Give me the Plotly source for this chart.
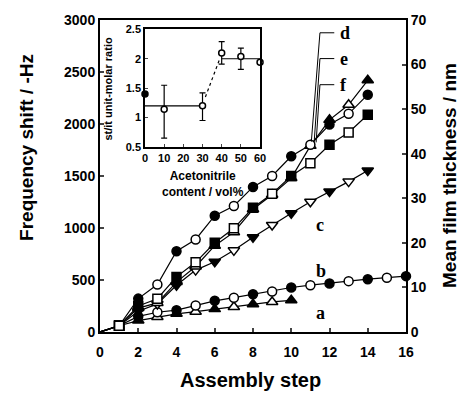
import plotly.graph_objects as go

# ---------------- data ----------------
steps = list(range(0, 17))

# frequency shift (-Hz) for each assembly step (step 0 .. n)
series_a = [0, 60, 110, 145, 175, 195, 220, 241, 267, 289, 305]
series_b = [0, 60, 150, 190, 210, 255, 300, 330, 363, 390, 428, 450, 466, 489, 508, 521, 537]
series_c = [0, 60, 200, 270, 450, 595, 675, 785, 910, 1029, 1141, 1253, 1350, 1446, 1552]
series_d = [0, 60, 230, 280, 480, 630, 830, 960, 1180, 1320, 1480, 1790, 2040, 2185, 2420]
series_e = [0, 60, 321, 456, 777, 890, 1118, 1212, 1395, 1500, 1690, 1800, 1995, 2098, 2282]
series_f = [0, 60, 250, 320, 530, 670, 858, 997, 1195, 1330, 1501, 1623, 1800, 1918, 2089]

series_labels = ["a", "b", "c", "d", "e", "f"]
series_symbols = ["triangle-up", "circle", "triangle-down", "triangle-up", "circle", "square"]

# inset data
inset_x = [0, 10, 30, 40, 50, 60]
inset_y = [1.40, 1.14, 1.20, 2.10, 2.04, 1.94]
inset_err_plus = [0, 0.41, 0.22, 0.19, 0.14, 0]
inset_err_minus = [0, 0.49, 0.25, 0.19, 0.22, 0]
inset_filled = [True, False, False, False, False, False]
avg_low_x = [0, 30]
avg_low_y = [1.2, 1.2]
avg_high_x = [40, 60]
avg_high_y = [2.0, 2.0]
dotted_x = [31.5, 39]
dotted_y = [1.35, 2.0]

x_ticks = [0, 2, 4, 6, 8, 10, 12, 14, 16]
y_ticks = [0, 500, 1000, 1500, 2000, 2500, 3000]
y2_ticks = [0, 10, 20, 30, 40, 50, 60, 70]

# ---------------- figure ----------------
fig = go.Figure()

all_series = [series_a, series_b, series_c, series_d, series_e, series_f]
sizes = {"circle": 9, "square": 9, "triangle-up": 10, "triangle-down": 10}

for vals, lab, sym in zip(all_series, series_labels, series_symbols):
    xs = steps[:len(vals)]
    symbols, colors, msz = [], [], []
    for s in xs:
        if s == 0:
            symbols.append(sym); colors.append("#000000"); msz.append(0)
        elif s == 1:
            symbols.append("square"); colors.append("#ffffff"); msz.append(9)
        else:
            symbols.append(sym)
            colors.append("#000000" if s % 2 == 0 else "#ffffff")
            msz.append(sizes[sym])
    fig.add_trace(go.Scatter(
        x=xs, y=vals, mode="lines+markers", name=lab,
        line=dict(color="black", width=1.2),
        marker=dict(symbol=symbols, color=colors, size=msz, opacity=1,
                    line=dict(color="#000000", width=1.5)),
        showlegend=False, xaxis="x", yaxis="y", cliponaxis=False))

# dummy trace for right axis
fig.add_trace(go.Scatter(x=[0], y=[0], mode="markers", marker=dict(size=0, opacity=0),
                         xaxis="x", yaxis="y2", showlegend=False, hoverinfo="skip"))

# inset traces
fig.add_trace(go.Scatter(x=avg_low_x, y=avg_low_y, mode="lines",
                         line=dict(color="black", width=1.2), xaxis="x3", yaxis="y3", showlegend=False))
fig.add_trace(go.Scatter(x=avg_high_x, y=avg_high_y, mode="lines",
                         line=dict(color="black", width=1.2), xaxis="x3", yaxis="y3", showlegend=False))
fig.add_trace(go.Scatter(x=dotted_x, y=dotted_y, mode="lines",
                         line=dict(color="black", width=1.2, dash="dot"), xaxis="x3", yaxis="y3", showlegend=False))
fig.add_trace(go.Scatter(
    x=inset_x, y=inset_y, mode="markers",
    marker=dict(symbol="circle", size=6, opacity=1,
                color=["#000000" if f else "#ffffff" for f in inset_filled],
                line=dict(color="black", width=1.5)),
    error_y=dict(type="data", symmetric=False, array=inset_err_plus, arrayminus=inset_err_minus,
                 color="black", thickness=1.2, width=3),
    xaxis="x3", yaxis="y3", showlegend=False, cliponaxis=False))

tickfont = dict(family="Liberation Sans, Arial", size=14, color="black", weight="bold")
insetfont = dict(family="Liberation Sans, Arial", size=11, color="black", weight="bold")

fig.update_layout(
    width=463, height=393,
    margin=dict(l=100, r=57, t=20, b=61),
    paper_bgcolor="white", plot_bgcolor="white",
    xaxis=dict(range=[0, 16], tickvals=x_ticks, ticks="inside", ticklen=4, tickwidth=1.5,
               showline=True, linecolor="black", linewidth=2, mirror=True,
               showgrid=False, zeroline=False, tickfont=tickfont, ticklabelstandoff=6,
               anchor="y"),
    yaxis=dict(range=[0, 3000], tickvals=y_ticks, ticks="inside", ticklen=4, tickwidth=1.5,
               showline=True, linecolor="black", linewidth=2,
               showgrid=False, zeroline=False, tickfont=tickfont, anchor="x"),
    yaxis2=dict(range=[0, 70], tickvals=y2_ticks, ticks="inside", ticklen=4, tickwidth=1.5,
                showline=True, linecolor="black", linewidth=2, overlaying="y", side="right",
                showgrid=False, zeroline=False, tickfont=tickfont, anchor="x"),
    xaxis3=dict(domain=[0.147, 0.523], range=[0, 60], tickvals=[0, 10, 20, 30, 40, 50, 60],
                ticks="inside", ticklen=3, showline=True, linecolor="black", linewidth=1.5,
                mirror=True, showgrid=False, zeroline=False, tickfont=insetfont, anchor="y3"),
    yaxis3=dict(domain=[0.593, 0.97], range=[0.5, 2.5], tickvals=[0.5, 1, 1.5, 2, 2.5],
                ticktext=["0.5", "1", "1.5", "2", "2.5"],
                ticks="inside", ticklen=3, showline=True, linecolor="black", linewidth=1.5,
                mirror=True, showgrid=False, zeroline=False, tickfont=insetfont, anchor="x3"),
)

annotations = []
titlefont = dict(family="Liberation Sans, Arial", size=19, color="black", weight="bold")
annotations.append(dict(text="Frequency shift / -Hz", xref="paper", yref="paper", x=0, y=0.59,
                        xanchor="center", yanchor="middle", xshift=-73, textangle=-90,
                        showarrow=False, font=titlefont))
annotations.append(dict(text="Mean film thickness / nm", xref="paper", yref="paper", x=1, y=0.5,
                        xanchor="center", yanchor="middle", xshift=43, textangle=-90,
                        showarrow=False, font=titlefont))
annotations.append(dict(text="Assembly step", xref="paper", yref="paper", x=0.493, y=0,
                        xanchor="center", yanchor="middle", yshift=-48,
                        showarrow=False, font=dict(family="Liberation Sans, Arial", size=20,
                                                   color="black", weight="bold")))
annotations.append(dict(text="st/it unit-molar ratio", xref="paper", yref="paper",
                        x=0.147, y=0.78, xanchor="center", yanchor="middle", xshift=-37,
                        textangle=-90, showarrow=False, font=insetfont))
annotations.append(dict(text="Acetonitrile<br>content / vol%", xref="paper", yref="paper",
                        x=0.335, y=0.593, xanchor="center", yanchor="top", yshift=-20,
                        showarrow=False, font=dict(family="Liberation Sans, Arial", size=12,
                                                   color="black", weight="bold")))

labfont = dict(family="Liberation Serif, Times New Roman", size=18, color="black", weight="bold")
label_pos = {"a": (11.2, 180), "b": (11.2, 588), "c": (11.2, 1029),
             "d": (12.45, 2877), "e": (12.45, 2629), "f": (12.45, 2378)}
for lab, (lx, ly) in label_pos.items():
    annotations.append(dict(text=lab, x=lx, y=ly, xref="x", yref="y", showarrow=False,
                            xanchor="left", yanchor="middle", font=labfont))
fig.update_layout(annotations=annotations)

# leader lines for d, e, f
leader = [("d", 11.05, series_d[11] + 40), ("e", 11.2, series_e[11] + 30), ("f", 11.3, series_f[11] + 200)]
shapes = []
for lab, ex, ey in leader:
    lx, ly = label_pos[lab]
    shapes.append(dict(type="line", xref="x", yref="y", x0=lx - 0.2, x1=lx - 0.95, y0=ly, y1=ly,
                       line=dict(color="black", width=1)))
    shapes.append(dict(type="line", xref="x", yref="y", x0=lx - 0.95, x1=ex, y0=ly, y1=ey,
                       line=dict(color="black", width=1)))
fig.update_layout(shapes=shapes)

fig.write_html("out.html", config={"displayModeBar": False},
               post_script="document.body.style.margin='0px';document.body.style.overflow='hidden';")
